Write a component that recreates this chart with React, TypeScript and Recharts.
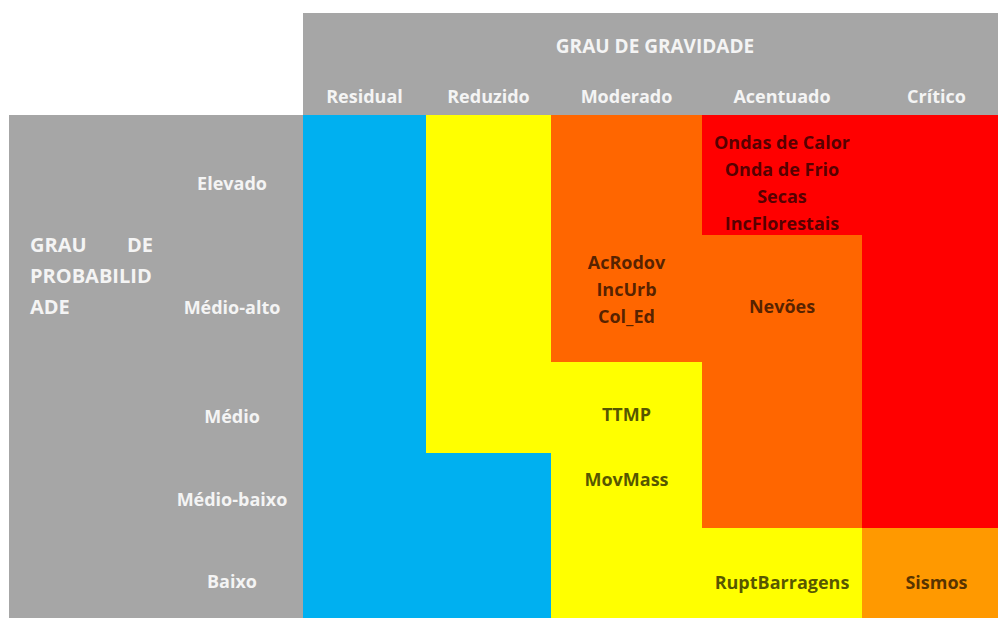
import React from 'react';
import { ComposedChart, XAxis, YAxis, ReferenceArea } from 'recharts';

// ---------------- DATA ----------------
const severityLevels = ['Residual', 'Reduzido', 'Moderado', 'Acentuado', 'Crítico'];
const probabilityLevels = ['Elevado', 'Médio-alto', 'Médio', 'Médio-baixo', 'Baixo'];
const severityTitle = 'GRAU DE GRAVIDADE';
const probabilityTitleLines = [['GRAU', 'DE'], ['PROBABILID'], ['ADE']];

// risk class of each cell, one row per probability level (top → bottom), columns = severity levels
const riskElevado = ['baixo', 'moderado', 'elevado', 'extremo', 'extremo'];
const riskMedioAlto = ['baixo', 'moderado', 'elevado', 'elevado', 'extremo'];
const riskMedio = ['baixo', 'moderado', 'moderado', 'elevado', 'extremo'];
const riskMedioBaixo = ['baixo', 'baixo', 'moderado', 'elevado', 'extremo'];
const riskBaixo = ['baixo', 'baixo', 'moderado', 'moderado', 'alto'];
const riskMatrix = [riskElevado, riskMedioAlto, riskMedio, riskMedioBaixo, riskBaixo];

// hazards placed in the matrix
const hazardLabels = [
  ['Ondas de Calor', 'Onda de Frio', 'Secas', 'IncFlorestais'],
  ['AcRodov', 'IncUrb', 'Col_Ed'],
  ['Nevões'],
  ['TTMP'],
  ['MovMass'],
  ['RuptBarragens'],
  ['Sismos'],
];
const hazardProbability = ['Elevado', 'Médio-alto', 'Médio-alto', 'Médio', 'Médio-baixo', 'Baixo', 'Baixo'];
const hazardSeverity = ['Acentuado', 'Moderado', 'Acentuado', 'Moderado', 'Moderado', 'Acentuado', 'Crítico'];

// ---------------- LAYOUT / STYLE ----------------
const W = 998;
const H = 618;
const MARGIN = { top: 13, left: 9, right: 0, bottom: 0 };
const X_AXIS_H = 102;
const Y_AXIS_W = 294;
const COL_WIDTHS = [123, 125, 151, 160, 149]; // last column runs past the right edge of the picture
const VISIBLE_W = 695;
const ROW_HEIGHTS = [120, 127, 91, 75, 90];
const HAZARD_DY = [8.5, -8.5, 8.5, 7.5, -10.5, 10, 10];
const ROW_LABEL_SHIFT = -71;
const FONT = '"Open Sans", "DejaVu Sans", sans-serif';
const FONT_SIZE = 18;
const LINE_H = 27;
const GRAY = '#a6a6a6';
const LABEL_WHITE = '#f4f4f4';
const RISK_COLORS: Record<string, string> = {
  baixo: '#00b0f0',
  moderado: '#ffff00',
  elevado: '#ff6600',
  extremo: '#ff0000',
  alto: '#ff9900',
};

const cumulative = (arr: number[]) => {
  const out = [0];
  arr.forEach((v) => out.push(out[out.length - 1] + v));
  return out;
};
const colEdges = cumulative(COL_WIDTHS);
const rowEdges = cumulative(ROW_HEIGHTS);
const yTotal = rowEdges[rowEdges.length - 1];
const colCenters = COL_WIDTHS.map((_, i) => (colEdges[i] + colEdges[i + 1]) / 2);
const rowCenters = ROW_HEIGHTS.map((_, i) => (rowEdges[i] + rowEdges[i + 1]) / 2);

// grid table built from the arrays above (one record per matrix cell)
const gridData = riskMatrix.flatMap((row, r) =>
  row.map((risk, c) => ({ sev: colCenters[c], prob: rowCenters[r], risk }))
);

const nearest = (arr: number[], v: number) => {
  let best = 0;
  arr.forEach((a, i) => {
    if (Math.abs(a - v) < Math.abs(arr[best] - v)) best = i;
  });
  return best;
};

const ColTick = (props: any) => {
  const { x, y, payload } = props;
  const i = nearest(colCenters, payload.value);
  return (
    <text x={x} y={y} dy={-12} textAnchor="middle" fill={LABEL_WHITE} fontFamily={FONT} fontSize={FONT_SIZE} fontWeight={700}>
      {severityLevels[i]}
    </text>
  );
};

const RowTick = (props: any) => {
  const { x, y, payload } = props;
  const i = nearest(rowCenters, payload.value);
  return (
    <text x={x + ROW_LABEL_SHIFT} y={y} dy={15} textAnchor="middle" fill={LABEL_WHITE} fontFamily={FONT} fontSize={FONT_SIZE} fontWeight={700}>
      {probabilityLevels[i]}
    </text>
  );
};

const SeverityTitle = (props: any) => {
  const vb = props.viewBox || {};
  return (
    <text x={655} y={vb.y + 40} textAnchor="middle" fill={LABEL_WHITE} fontFamily={FONT} fontSize={19} fontWeight={700}>
      {severityTitle}
    </text>
  );
};

const ProbabilityTitle = (props: any) => {
  const vb = props.viewBox || {};
  const left = vb.x + 21;
  const right = vb.x + 144;
  const top = 252;
  return (
    <g>
      {probabilityTitleLines.map((words, li) =>
        words.map((w, wi) => (
          <text
            key={`${li}-${wi}`}
            x={wi === 0 ? left : right}
            y={top + li * 31}
            textAnchor={wi === 0 ? 'start' : 'end'}
            fill={LABEL_WHITE}
            fontFamily={FONT}
            fontSize={20}
            fontWeight={700}
          >
            {w}
          </text>
        ))
      )}
    </g>
  );
};

const makeHazardLabel = (lines: string[], dyOff: number) => (props: any) => {
  const vb = props.viewBox || {};
  const cx = vb.x + vb.width / 2;
  const cy = vb.y + vb.height / 2 + dyOff;
  const first = cy - ((lines.length - 1) * LINE_H) / 2 + 6.4;
  return (
    <text textAnchor="middle" fill="#000" fillOpacity={0.68} fontFamily={FONT} fontSize={FONT_SIZE} fontWeight={700}>
      {lines.map((l, i) => (
        <tspan key={i} x={cx} y={first + i * LINE_H}>
          {l}
        </tspan>
      ))}
    </text>
  );
};

export default function App() {
  const plotLeft = MARGIN.left + Y_AXIS_W;
  const plotTop = MARGIN.top + X_AXIS_H;

  const hazardAt = (r: number, c: number) =>
    hazardLabels.findIndex(
      (_, k) => hazardProbability[k] === probabilityLevels[r] && hazardSeverity[k] === severityLevels[c]
    );

  const plain: React.ReactNode[] = [];
  const labelled: React.ReactNode[] = [];
  riskMatrix.forEach((row, r) => {
    row.forEach((risk, c) => {
      const h = hazardAt(r, c);
      const el = (
        <ReferenceArea
          key={`cell-${r}-${c}`}
          x1={colEdges[c]}
          x2={colEdges[c + 1]}
          y1={rowEdges[r]}
          y2={rowEdges[r + 1]}
          fill={RISK_COLORS[risk]}
          fillOpacity={1}
          stroke="none"
          ifOverflow="visible"
          label={h >= 0 ? makeHazardLabel(hazardLabels[h], HAZARD_DY[h]) : undefined}
        />
      );
      (h >= 0 ? labelled : plain).push(el);
    });
  });

  return (
    <div style={{ position: 'absolute', left: 0, top: 0, width: W, height: H, background: '#fff', overflow: 'hidden' }}>
      <div style={{ position: 'absolute', left: plotLeft, top: MARGIN.top, width: W - plotLeft, height: X_AXIS_H, background: GRAY }} />
      <div style={{ position: 'absolute', left: MARGIN.left, top: plotTop, width: Y_AXIS_W, height: H - plotTop, background: GRAY }} />
      <div style={{ position: 'absolute', left: 0, top: 0 }}>
        <ComposedChart width={W} height={H} margin={MARGIN} data={gridData}>
          <XAxis
            dataKey="sev"
            type="number"
            orientation="top"
            domain={[0, VISIBLE_W]}
            ticks={colCenters}
            interval={0}
            height={X_AXIS_H}
            tickLine={false}
            axisLine={false}
            tickSize={0}
            tickMargin={0}
            tick={<ColTick />}
            allowDataOverflow
            label={{ content: <SeverityTitle /> } as any}
          />
          <YAxis
            dataKey="prob"
            type="number"
            reversed
            domain={[0, yTotal]}
            ticks={rowCenters}
            interval={0}
            width={Y_AXIS_W}
            tickLine={false}
            axisLine={false}
            tickSize={0}
            tickMargin={0}
            tick={<RowTick />}
            allowDataOverflow
            label={{ content: <ProbabilityTitle /> } as any}
          />
          {plain}
          {labelled}
        </ComposedChart>
      </div>
    </div>
  );
}
